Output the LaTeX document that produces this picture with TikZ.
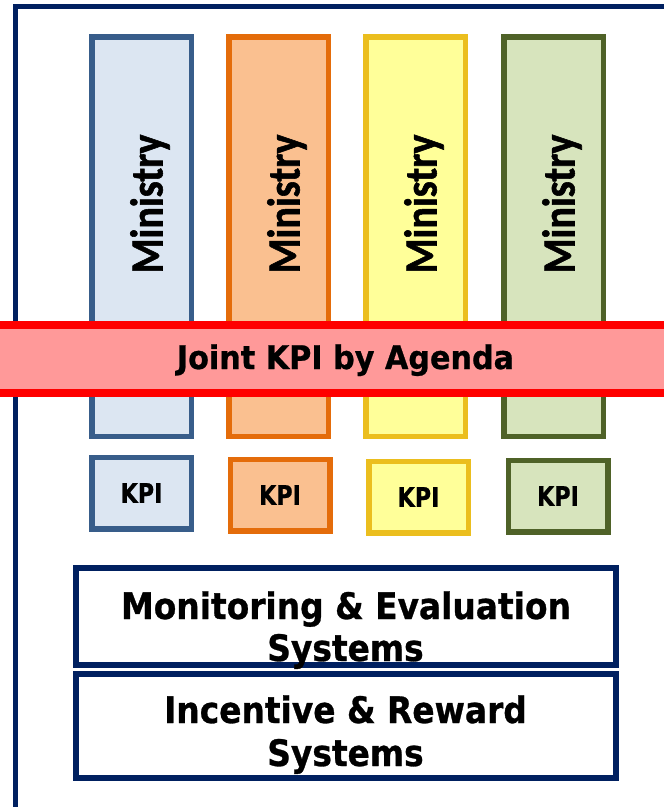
\documentclass[tikz,border=0pt]{standalone}
\usepackage{fontspec}
\newfontfamily\mfont[FakeStretch=0.87, BoldFont={Carlito Bold}, BoldFeatures={FakeBold=1.2}]{Carlito}
\newfontfamily\jfont[FakeStretch=0.93, BoldFeatures={FakeBold=0.8}]{DejaVu Sans}
\newfontfamily\bfont[FakeStretch=0.9, BoldFeatures={FakeBold=0.8}]{DejaVu Sans}
\newfontfamily\kfont[FakeStretch=0.82, BoldFeatures={FakeBold=0.8}]{DejaVu Sans}
\definecolor{navy}{HTML}{002060}
\definecolor{blueD}{HTML}{385D8A}
\definecolor{blueF}{HTML}{DCE6F2}
\definecolor{orD}{HTML}{E46C0A}
\definecolor{orF}{HTML}{FAC090}
\definecolor{yeD}{HTML}{EBBE1E}
\definecolor{yeF}{HTML}{FFFF99}
\definecolor{grD}{HTML}{4F6228}
\definecolor{grF}{HTML}{D7E4BD}
\definecolor{bandF}{HTML}{FF9999}
\definecolor{bandD}{HTML}{FF0000}
\tikzset{
  bar/.style={draw, line width=5.5pt, minimum width=99.5pt, minimum height=399.5pt, inner sep=0pt},
  kpibox/.style={draw, line width=5.5pt, minimum width=99.5pt, minimum height=71.5pt, inner sep=0pt,
    font=\kfont\bfseries\fontsize{27}{30}\selectfont},
  mintext/.style={rotate=90, anchor=base, inner sep=0pt, font=\mfont\bfseries\fontsize{46}{50}\selectfont},
  sysbox/.style={draw=navy, fill=white, line width=6pt, minimum width=540pt, inner sep=0pt},
  systext/.style={anchor=base, inner sep=0pt, font=\bfont\bfseries\fontsize{36.5}{44}\selectfont},
}
\begin{document}
\begin{tikzpicture}[x=1pt, y=-1pt]
\useasboundingbox (0,0) rectangle (664,807);
\clip (0,0) rectangle (664,807);
% outer frame (only top and left edges visible)
\draw[navy, line width=5pt] (15.5,6.5) rectangle (720,860);
% ministry bars
\node[bar, draw=blueD, fill=blueF] (m1) at (141.5,236.5) {};
\node[bar, draw=orD, fill=orF] (m2) at (278.5,236.5) {};
\node[bar, draw=yeD, fill=yeF] (m3) at (415.5,236.5) {};
\node[bar, draw=grD, fill=grF] (m4) at (553.5,236.5) {};
\node[mintext] (t1) at (162.5,204) {Ministry};
\node[mintext] (t2) at (299.5,204) {Ministry};
\node[mintext] (t3) at (436.5,204) {Ministry};
\node[mintext] (t4) at (574.5,204) {Ministry};
% joint band
\node[draw=bandD, fill=bandF, line width=8pt, minimum width=780pt, minimum height=68pt, inner sep=0pt] (band) at (345.5,359) {};
\node[anchor=base, inner sep=0pt, font=\jfont\bfseries\fontsize{32.5}{36}\selectfont] (jt) at (345.5,369) {Joint KPI by Agenda};
% KPI boxes
\node[kpibox, draw=blueD, fill=blueF] (k1) at (141.5,493) {KPI};
\node[kpibox, draw=orD, fill=orF] (k2) at (280,495) {KPI};
\node[kpibox, draw=yeD, fill=yeF] (k3) at (418.5,497) {KPI};
\node[kpibox, draw=grD, fill=grF] (k4) at (558,496) {KPI};
% systems boxes
\node[sysbox, minimum height=97pt] (me) at (346,616.5) {};
\node[sysbox, minimum height=104pt] (ir) at (346,726) {};
\node[systext] (me1) at (346,619) {Monitoring \& Evaluation};
\node[systext] (me2) at (345.5,661) {Systems};
\node[systext] (ir1) at (345.5,723) {Incentive \& Reward};
\node[systext] (ir2) at (345.5,766) {Systems};
\end{tikzpicture}
\end{document}
